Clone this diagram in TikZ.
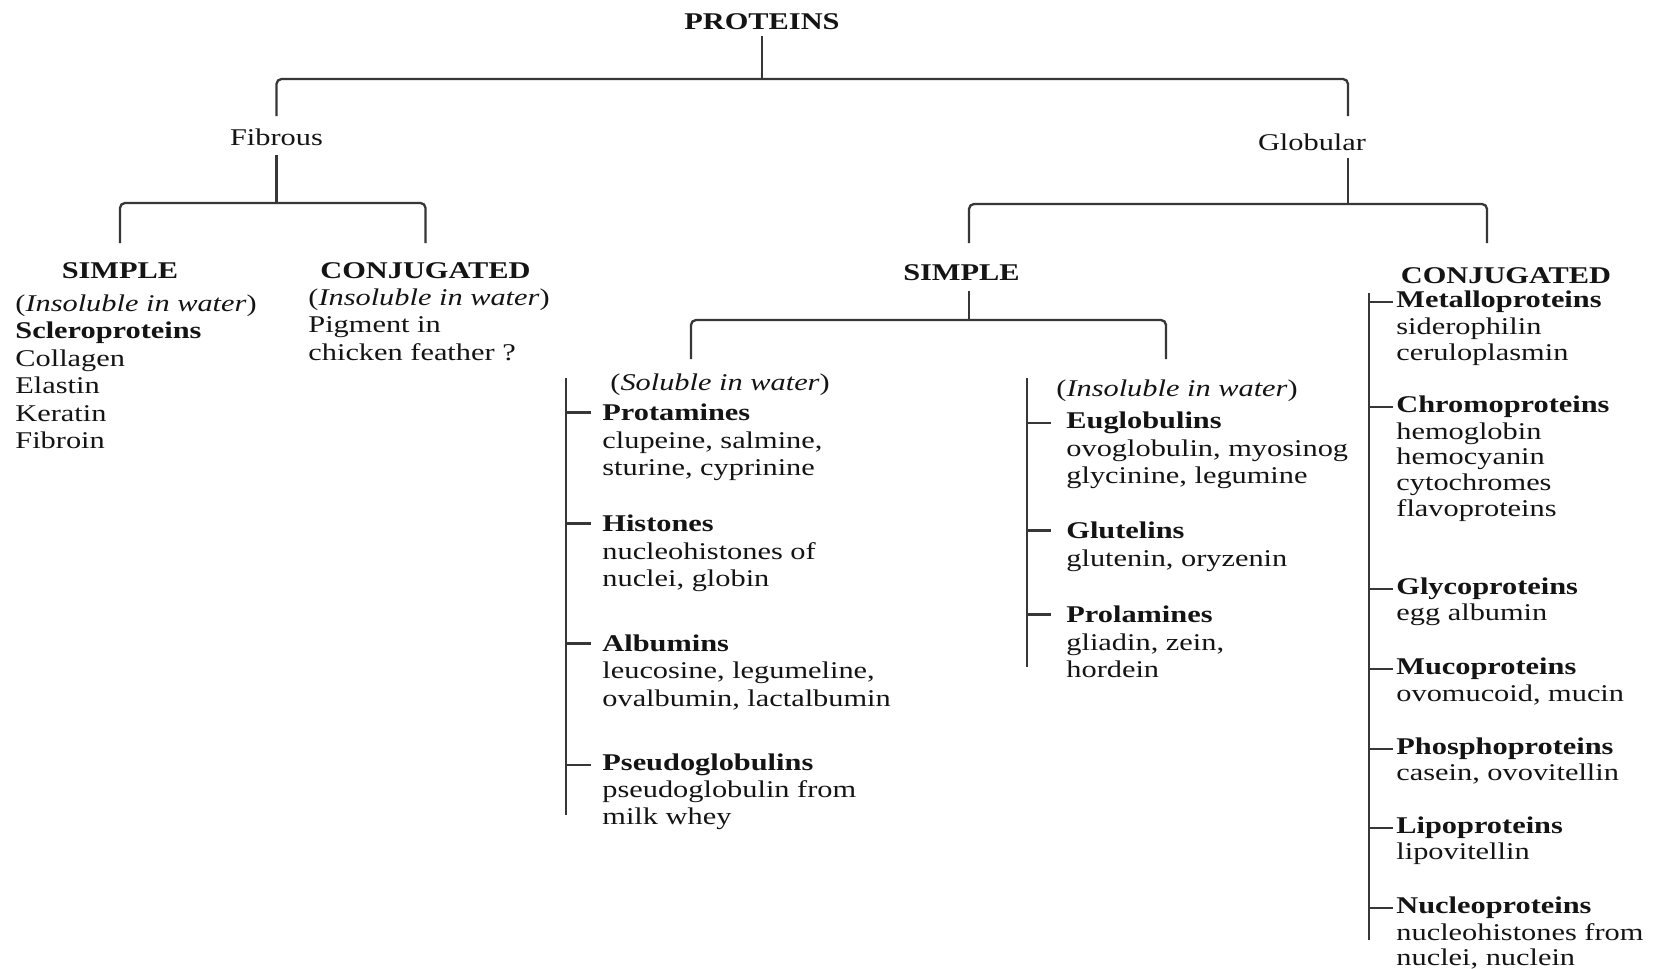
\documentclass[tikz,border=0pt]{standalone}
\usepackage{fontspec}
\setmainfont{Liberation Serif}[FakeStretch=1.265]
\definecolor{ln}{RGB}{55,55,55}
\definecolor{tx}{RGB}{20,20,20}
\begin{document}
\begin{tikzpicture}[x=0.5pt,y=-0.5pt,
  conn/.style={draw=ln,line width=1.15pt,rounded corners=2.5pt},
  base/.style={inner sep=0pt,text=tx,font=\fontsize{12}{14}\selectfont},
  hd/.style={base,anchor=center,yshift=-0.8pt,font=\fontsize{12}{14}\selectfont\bfseries},
  lab/.style={base,anchor=center},
  rg/.style={base,anchor=mid west,yshift=-1.5pt},
  bd/.style={base,anchor=mid west,yshift=-1.5pt,font=\fontsize{12}{14}\selectfont\bfseries}]
\useasboundingbox[fill=white] (0,0) rectangle (1655,969);

% ---- top levels
\node[hd] (proteins) at (762,20) {PROTEINS};
\node[lab] (fib) at (276.5,137) {Fibrous};
\node[lab] (glob) at (1312,142.5) {Globular};

\node[hd] (fsimple) at (120,269) {SIMPLE};
\node[hd] (fconj) at (425.5,269) {CONJUGATED};
\node[hd] (gsimple) at (961.5,271) {SIMPLE};
\node[hd] (gconj) at (1506,274) {CONJUGATED};

% ---- fibrous simple
\node[rg] (fs0) at (15,304) {(\textit{Insoluble in water})};
\node[bd] (fs1) at (15,331) {Scleroproteins};
\node[rg] (fs2) at (15,359) {Collagen};
\node[rg] (fs3) at (15,386) {Elastin};
\node[rg] (fs4) at (15,414) {Keratin};
\node[rg] (fs5) at (15,441) {Fibroin};

% ---- fibrous conjugated
\node[rg] (fc0) at (308,298) {(\textit{Insoluble in water})};
\node[rg] (fc1) at (308,325) {Pigment in};
\node[rg] (fc2) at (308,352.5) {chicken feather ?};

% ---- globular simple, soluble
\node[rg] (so0) at (610,383) {(\textit{Soluble in water})};
\node[bd] (prot) at (602,413) {Protamines};
\node[rg] (prot1) at (602,441) {clupeine, salmine,};
\node[rg] (prot2) at (602,468) {sturine, cyprinine};
\node[bd] (hist) at (602,524) {Histones};
\node[rg] (hist1) at (602,552) {nucleohistones of};
\node[rg] (hist2) at (602,579) {nuclei, globin};
\node[bd] (albu) at (602,644) {Albumins};
\node[rg] (albu1) at (602,671) {leucosine, legumeline,};
\node[rg] (albu2) at (602,699) {ovalbumin, lactalbumin};
\node[bd] (pseu) at (602,763) {Pseudoglobulins};
\node[rg] (pseu1) at (602,790) {pseudoglobulin from};
\node[rg] (pseu2) at (602,817) {milk whey};

% ---- globular simple, insoluble
\node[rg] (in0) at (1056,389) {(\textit{Insoluble in water})};
\node[bd] (eugl) at (1066,421) {Euglobulins};
\node[rg] (eugl1) at (1066,449) {ovoglobulin, myosinog};
\node[rg] (eugl2) at (1066,476) {glycinine, legumine};
\node[bd] (glut) at (1066,531) {Glutelins};
\node[rg] (glut1) at (1066,559) {glutenin, oryzenin};
\node[bd] (prol) at (1066,615) {Prolamines};
\node[rg] (prol1) at (1066,643) {gliadin, zein,};
\node[rg] (prol2) at (1066,670) {hordein};

% ---- globular conjugated
\node[bd] (meta) at (1396,300) {Metalloproteins};
\node[rg] (meta1) at (1396,327) {siderophilin};
\node[rg] (meta2) at (1396,353) {ceruloplasmin};
\node[bd] (chro) at (1396,405) {Chromoproteins};
\node[rg] (chro1) at (1396,432) {hemoglobin};
\node[rg] (chro2) at (1396,457) {hemocyanin};
\node[rg] (chro3) at (1396,483) {cytochromes};
\node[rg] (chro4) at (1396,509) {flavoproteins};
\node[bd] (glyc) at (1396,587) {Glycoproteins};
\node[rg] (glyc1) at (1396,613) {egg albumin};
\node[bd] (muco) at (1396,667) {Mucoproteins};
\node[rg] (muco1) at (1396,694) {ovomucoid, mucin};
\node[bd] (phos) at (1396,747) {Phosphoproteins};
\node[rg] (phos1) at (1396,773) {casein, ovovitellin};
\node[bd] (lipo) at (1396,826) {Lipoproteins};
\node[rg] (lipo1) at (1396,852) {lipovitellin};
\node[bd] (nucl) at (1396,906) {Nucleoproteins};
\node[rg] (nucl1) at (1396,933) {nucleohistones from};
\node[rg] (nucl2) at (1396,958) {nuclei, nuclein};

% ---- connector coordinates
\coordinate (pj) at (762,79);
\coordinate (fibU) at (276.5,116);
\coordinate (globU) at (1348,116);
\coordinate (fibD) at (276.5,155);
\coordinate (fj) at (276.5,203);
\coordinate (globD) at (1348,158);
\coordinate (gj) at (1348,204);
\coordinate (gsD) at (969,291);
\coordinate (gsj) at (969,320);
\coordinate (solU) at (691,359);
\coordinate (insU) at (1166,359);
\coordinate (sl) at (566,378);
\coordinate (slE) at (566,815);
\coordinate (il) at (1027,378);
\coordinate (ilE) at (1027,667);
\coordinate (cl) at (1369,293);
\coordinate (clE) at (1369,940);

% ---- connectors
\draw[conn] (proteins.south) ++(0,6) -- (pj);
\draw[conn] (fibU) |- (pj) -| (globU);
\draw[conn] (fibD) -- (fj);
\draw[conn] (fsimple.north |- 0,243) |- (fj) -| (fconj.north |- 0,243);
\draw[conn] (globD) -- (gj);
\draw[conn] (969,243) |- (gj) -| (1487,243);
\draw[conn] (gsD) -- (gsj);
\draw[conn] (solU) |- (gsj) -| (insU);

\draw[conn] (sl) -- (slE);
\foreach \n in {prot,hist,albu,pseu}
  \draw[conn] (\n.west -| sl) -- ++(25,0);
\draw[conn] (il) -- (ilE);
\foreach \n in {eugl,glut,prol}
  \draw[conn] (\n.west -| il) -- ++(24,0);
\draw[conn] (cl) -- (clE);
\foreach \n in {meta,chro,glyc,muco,phos,lipo,nucl}
  \draw[conn] (\n.west -| cl) -- ++(24,0);
\end{tikzpicture}
\end{document}
